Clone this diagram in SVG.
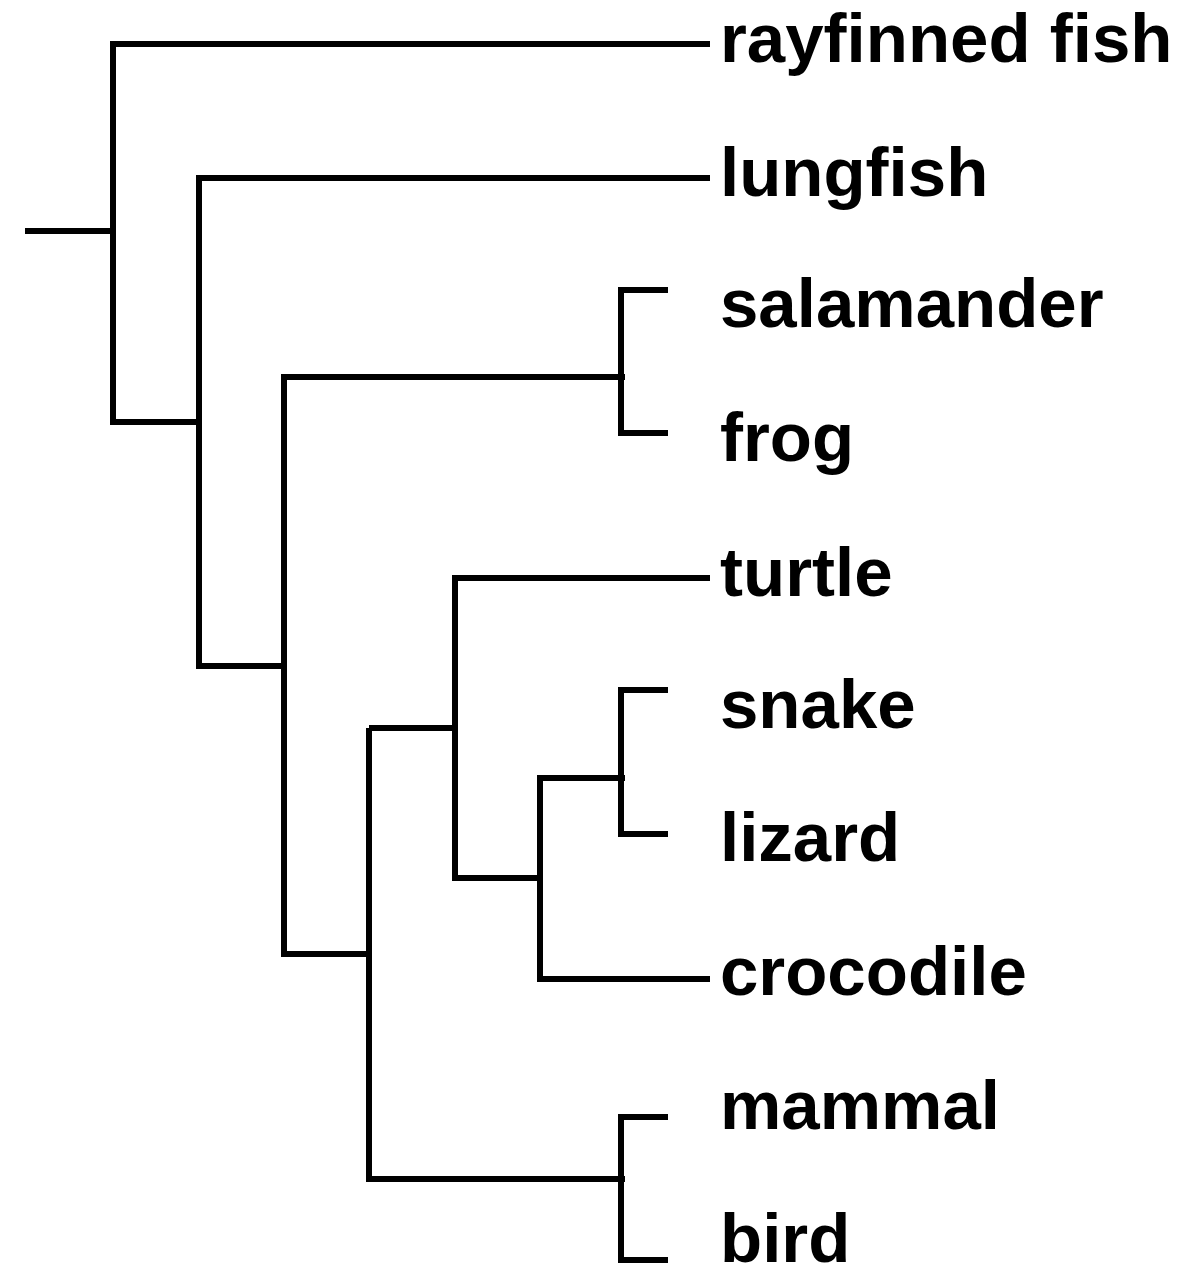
<svg xmlns="http://www.w3.org/2000/svg" width="1193" height="1275" viewBox="0 0 1193 1275">
<style>
.e{fill:none;stroke:#000;stroke-width:6;stroke-linecap:butt;stroke-linejoin:miter}
.l{font-family:"Liberation Sans",Arial,sans-serif;font-weight:bold;font-size:69px;fill:#000}
</style>
<rect width="1193" height="1275" fill="#fff"/>
<g id="connectors">
<path class="e" d="M25 231H113"/>
<path class="e" d="M710 44H113V422H199"/>
<path class="e" d="M710 178H199V666H284"/>
<path class="e" d="M625 377H284V954H369"/>
<path class="e" d="M668 290H621V433H668"/>
<path class="e" d="M710 578H455V878H540"/>
<path class="e" d="M369 728H455"/>
<path class="e" d="M369 728V1179H625"/>
<path class="e" d="M625 778H540V979H710"/>
<path class="e" d="M668 690H621V834H668"/>
<path class="e" d="M668 1117H621V1260H668"/>
</g>
<g id="rayfinned_fish"><text class="l" x="720" y="62">rayfinned fish</text></g>
<g id="lungfish"><text class="l" x="720" y="196">lungfish</text></g>
<g id="salamander"><text class="l" x="720" y="327">salamander</text></g>
<g id="frog"><text class="l" x="720" y="461">frog</text></g>
<g id="turtle"><text class="l" x="720" y="596">turtle</text></g>
<g id="snake"><text class="l" x="720" y="728">snake</text></g>
<g id="lizard"><text class="l" x="720" y="861">lizard</text></g>
<g id="crocodile"><text class="l" x="720" y="995">crocodile</text></g>
<g id="mammal"><text class="l" x="720" y="1129">mammal</text></g>
<g id="bird"><text class="l" x="720" y="1262">bird</text></g>
</svg>
